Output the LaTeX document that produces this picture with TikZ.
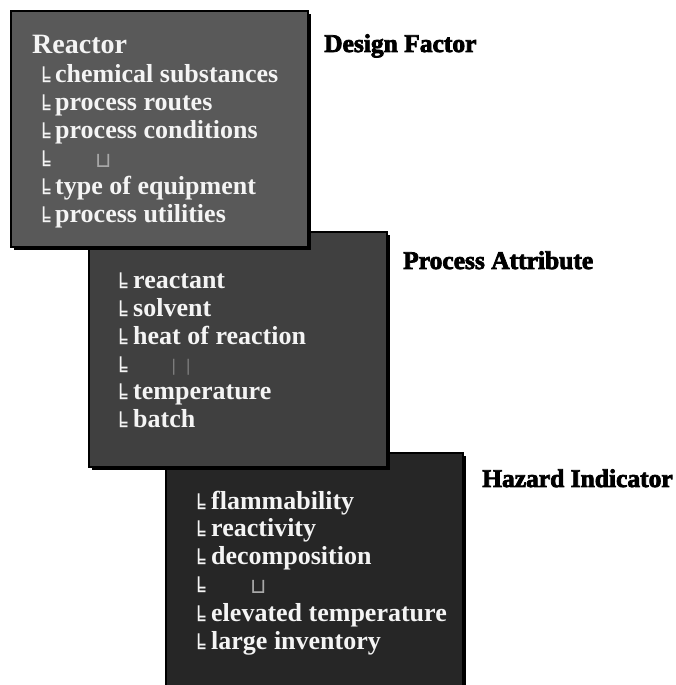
\documentclass[tikz,border=0pt]{standalone}
\usepackage{fontspec}
\setmainfont{Liberation Serif}
\newfontfamily\djv{DejaVu Sans}
\newfontfamily\heavy{Liberation Serif}[BoldFeatures={FakeBold=3}]
\definecolor{boxa}{HTML}{595959}
\definecolor{boxb}{HTML}{404040}
\definecolor{boxc}{HTML}{262626}
\definecolor{txt}{HTML}{F4F4F4}
\definecolor{ph}{HTML}{A8A8A8}
\tikzset{
  panel/.style={draw=black, line width=1.6pt},
  shade/.style={fill=black},
  item/.style={anchor=base west, inner sep=0pt, text=txt, font=\fontsize{26}{26}\selectfont\bfseries},
  head/.style={anchor=base west, inner sep=0pt, text=txt, font=\fontsize{28}{28}\selectfont\bfseries},
  treemark/.style={anchor=base west, inner sep=0pt, text=txt, font=\djv\fontsize{21}{21}\selectfont},
  holder/.style={anchor=base west, inner sep=0pt, text=ph, font=\djv\fontsize{21}{21}\selectfont},
  title/.style={anchor=base west, inner sep=0pt, text=black, font=\heavy\fontsize{25.5}{25.5}\selectfont\bfseries},
}
\newcommand{\bx}{\scalebox{1.05}[1.05]{╘}}
\begin{document}
\begin{tikzpicture}[x=1pt,y=1pt]
\useasboundingbox (0,0) rectangle (676,685);
% box 3
\fill[shade] (169,229) rectangle (466,-5);
\fill[boxc] (166,232) rectangle (463,-5);
\draw[line width=1.6pt] (166,-5) -- (166,232) -- (463,232) -- (463,-5);
% box 2
\fill[shade] (92,450) rectangle (390,215);
\fill[boxb, panel] (89,453) rectangle (387,218);
% box 1
\fill[shade] (14,671) rectangle (311,435);
\fill[boxa, panel] (11,674) rectangle (308,438);

% titles
\node[title] (t1) at (324,633) {Design Factor};
\node[title] (t2) at (403,416) {Process Attribute};
\node[title] (t3) at (482,198) {Hazard Indicator};

% box 1 text
\node[head] (reactor) at (32,631) {Reactor};
\node[treemark] (m11) at (37,597) {\bx};
\node[item] (a1) at (55,602) {chemical substances};
\node[treemark] (m12) at (37,569) {\bx};
\node[item] (a2) at (55,574) {process routes};
\node[treemark] (m13) at (37,541) {\bx};
\node[item] (a3) at (55,546) {process conditions};
\node[treemark] (m14) at (37,513) {\bx};
\node[holder] (p1) at (95,517) {⊔};
\node[treemark] (m15) at (37,485) {\bx};
\node[item] (a5) at (55,490) {type of equipment};
\node[treemark] (m16) at (37,457) {\bx};
\node[item] (a6) at (55,462) {process utilities};

% box 2 text
\node[treemark] (m21) at (114,391) {\bx};
\node[item] (b1) at (133,396) {reactant};
\node[treemark] (m22) at (114,363) {\bx};
\node[item] (b2) at (133,368) {solvent};
\node[treemark] (m23) at (114,335) {\bx};
\node[item] (b3) at (133,340) {heat of reaction};
\node[treemark] (m24) at (114,307) {\bx};
\node[holder, text=ph!75!black, font=\djv\fontsize{16}{16}\selectfont] (p2) at (171,313) {|\hspace{9pt}|};
\node[treemark] (m25) at (114,280) {\bx};
\node[item] (b5) at (133,285) {temperature};
\node[treemark] (m26) at (114,252) {\bx};
\node[item] (b6) at (133,257) {batch};

% box 3 text
\node[treemark] (m31) at (192,170) {\bx};
\node[item] (c1) at (211,175) {flammability};
\node[treemark] (m32) at (192,143) {\bx};
\node[item] (c2) at (211,148) {reactivity};
\node[treemark] (m33) at (192,115) {\bx};
\node[item] (c3) at (211,120) {decomposition};
\node[treemark] (m34) at (192,87) {\bx};
\node[holder] (p3) at (250,91) {⊔};
\node[treemark] (m35) at (192,58) {\bx};
\node[item] (c5) at (211,63) {elevated temperature};
\node[treemark] (m36) at (192,30) {\bx};
\node[item] (c6) at (211,35) {large inventory};
\end{tikzpicture}
\end{document}
